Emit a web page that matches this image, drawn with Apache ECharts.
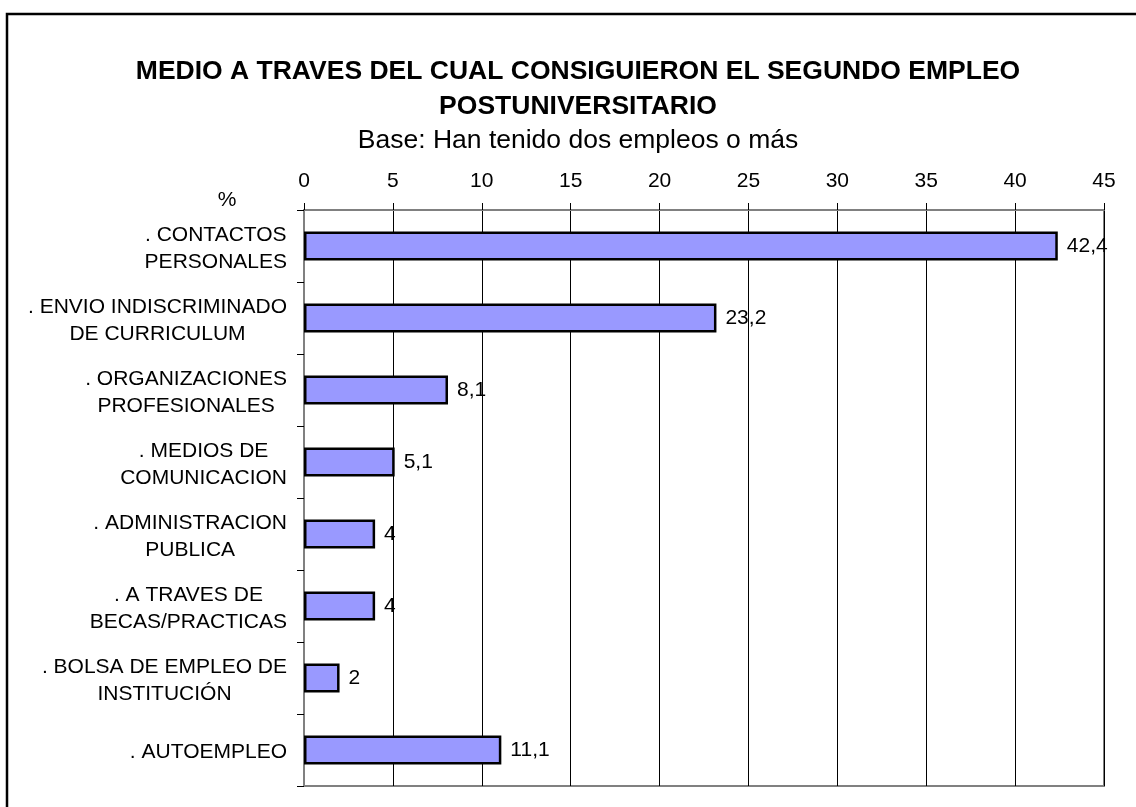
<!DOCTYPE html>
<html>
<head>
<meta charset="utf-8">
<script src="https://cdn.jsdelivr.net/npm/echarts@6/dist/echarts.min.js"></script>
<style>
html,body{margin:0;padding:0;background:#fff;}
#chart{width:1136px;height:807px;}
</style>
</head>
<body>
<div id="chart"></div>
<script>
const titleLines = ['MEDIO A TRAVES DEL CUAL CONSIGUIERON EL SEGUNDO EMPLEO', 'POSTUNIVERSITARIO'];
const subtitle = 'Base: Han tenido dos empleos o más';
const categories = [
  '. CONTACTOS\nPERSONALES',
  '. ENVIO INDISCRIMINADO\nDE CURRICULUM',
  '. ORGANIZACIONES\nPROFESIONALES',
  '. MEDIOS DE\nCOMUNICACION',
  '. ADMINISTRACION\nPUBLICA',
  '. A TRAVES DE\nBECAS/PRACTICAS',
  '. BOLSA DE EMPLEO DE\nINSTITUCIÓN',
  '. AUTOEMPLEO'
];
const values = [42.4, 23.2, 8.1, 5.1, 4, 4, 2, 11.1];
const xMin = 0, xMax = 45, xStep = 5;

const FONT = '"Liberation Sans", Arial, sans-serif';
const chart = echarts.init(document.getElementById('chart'));
chart.setOption({
  animation: false,
  backgroundColor: '#fff',
  title: [
    {
      text: titleLines.join('\n'),
      left: 578, top: 54, textAlign: 'center', padding: 0,
      textStyle: {fontFamily: FONT, fontSize: 26.5, fontWeight: 'bold', color: '#000', lineHeight: 35}
    },
    {
      text: subtitle,
      left: 578, top: 126, textAlign: 'center', padding: 0,
      textStyle: {fontFamily: FONT, fontSize: 26.5, fontWeight: 'normal', color: '#000', lineHeight: 30}
    }
  ],
  graphic: [
    {type: 'rect', shape: {x: 7, y: 14, width: 1300, height: 1000}, style: {fill: 'none', stroke: '#000', lineWidth: 2.5}, silent: true},
    {type: 'text', x: 227, y: 200, style: {text: '%', fontFamily: FONT, fontSize: 21, fill: '#000', align: 'center', verticalAlign: 'middle'}}
  ],
  grid: {
    left: 304, right: 32, top: 210, bottom: 21,
    show: true, borderColor: '#808080', borderWidth: 2, backgroundColor: 'transparent'
  },
  xAxis: {
    type: 'value', position: 'top', min: xMin, max: xMax, interval: xStep,
    axisLine: {show: true, lineStyle: {color: '#808080', width: 2}},
    axisTick: {show: true, length: 7, inside: false, lineStyle: {color: '#000', width: 1}},
    axisLabel: {fontFamily: FONT, fontSize: 21, color: '#000', margin: 18},
    splitLine: {show: true, lineStyle: {color: '#000', width: 1}}
  },
  yAxis: {
    type: 'category', data: categories, inverse: true,
    axisLine: {show: true, lineStyle: {color: '#808080', width: 2}},
    axisTick: {show: true, length: 7, lineStyle: {color: '#000', width: 1}},
    splitLine: {show: false},
    axisLabel: {
      fontFamily: FONT, fontSize: 21, color: '#000', margin: 17, align: 'right',
      padding: [5, 0, 0, 0],
      formatter: function (v) { return v.split('\n').map(l => '{c|' + l + '}').join('\n'); },
      rich: {c: {align: 'center', fontFamily: FONT, fontSize: 21, lineHeight: 27.5, color: '#000'}}
    }
  },
  series: [{
    type: 'bar', data: values, barWidth: '40%',
    itemStyle: {color: '#9999FF', borderColor: '#000', borderWidth: 2.5},
    label: {
      show: true, position: 'right', distance: 9,
      fontFamily: FONT, fontSize: 21, color: '#000',
      formatter: p => String(p.value).replace('.', ',')
    }
  }]
});
</script>
</body>
</html>
